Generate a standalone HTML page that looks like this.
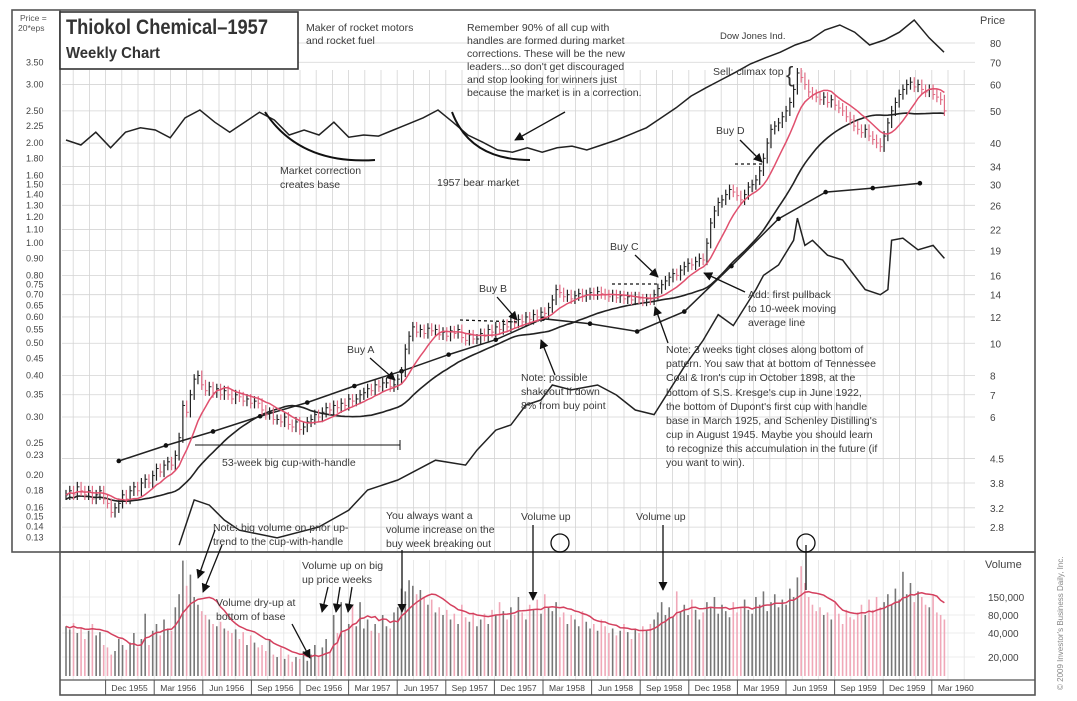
<!DOCTYPE html>
<html><head><meta charset="utf-8"><style>
html,body{margin:0;padding:0;background:#fff;}
svg{display:block;font-family:"Liberation Sans Narrow","Liberation Sans",sans-serif;}
.t{font-size:10.5px;fill:#3a3a3a;}
.ax{font-size:10px;fill:#444;}
</style></head><body>
<svg id="chart" width="1077" height="701" viewBox="0 0 1077 701" xmlns="http://www.w3.org/2000/svg">
<defs><marker id="ah" viewBox="0 0 10 10" refX="9" refY="5" markerWidth="7" markerHeight="7" orient="auto"><path d="M0,0 L10,5 L0,10 z" fill="#111"/></marker></defs>
<rect x="0" y="0" width="1077" height="701" fill="#fff"/>
<g id="grid"></g>
<g id="series"></g>
<g id="frames">
<rect x="12" y="10" width="1023" height="542" fill="none" stroke="#555" stroke-width="1.6"/>
<line x1="60" y1="10" x2="60" y2="552" stroke="#555" stroke-width="1.6"/>
<rect x="60" y="552" width="975" height="143" fill="none" stroke="#555" stroke-width="1.6"/>
<line x1="60" y1="680" x2="1035" y2="680" stroke="#555" stroke-width="1.2"/>
<rect x="60" y="12" width="238" height="57" fill="#fff" stroke="#333" stroke-width="1.6"/>
</g>
<g id="labels">
<text x="66" y="34" textLength="202" lengthAdjust="spacingAndGlyphs" style="font-size:21px;font-weight:bold;fill:#333">Thiokol Chemical–1957</text>
<text x="66" y="58" textLength="94" lengthAdjust="spacingAndGlyphs" style="font-size:16px;font-weight:bold;fill:#333">Weekly Chart</text>
<text x="20" y="21" style="font-size:8.5px;fill:#555">Price =</text>
<text x="18" y="31" style="font-size:8.5px;fill:#555">20*eps</text>
<text x="980" y="24" class="ax" style="font-size:11px">Price</text>
<text x="985" y="568" class="ax" style="font-size:11px">Volume</text>
<text class="t"><tspan x="306" y="31">Maker of rocket motors</tspan><tspan x="306" y="44">and rocket fuel</tspan></text>
<text class="t"><tspan x="467" y="31">Remember 90% of all cup with</tspan><tspan x="467" y="44">handles are formed during market</tspan><tspan x="467" y="57">corrections. These will be the new</tspan><tspan x="467" y="70">leaders...so don't get discouraged</tspan><tspan x="467" y="83">and stop looking for winners just</tspan><tspan x="467" y="96">because the market is in a correction.</tspan></text>
<text x="720" y="39" class="t" style="font-size:9.5px">Dow Jones Ind.</text>
<text x="713" y="75" class="t">Sell: climax top</text>
<text x="786" y="82" style="font-size:22px;fill:#333">{</text>
<text class="t"><tspan x="280" y="174">Market correction</tspan><tspan x="280" y="188">creates base</tspan></text>
<text x="437" y="186" class="t">1957 bear market</text>
<text x="716" y="134" class="t">Buy D</text>
<text x="610" y="250" class="t">Buy C</text>
<text x="479" y="292" class="t">Buy B</text>
<text x="347" y="353" class="t">Buy A</text>
<text class="t"><tspan x="748" y="298">Add: first pullback</tspan><tspan x="748" y="312">to 10-week moving</tspan><tspan x="748" y="326">average line</tspan></text>
<text class="t"><tspan x="666" y="353">Note: 3 weeks tight closes along bottom of</tspan><tspan x="666" y="367">pattern. You saw that at bottom of Tennessee</tspan><tspan x="666" y="381">Coal &amp; Iron's cup in October 1898, at the</tspan><tspan x="666" y="396">bottom of S.S. Kresge's cup in June 1922,</tspan><tspan x="666" y="410">the bottom of Dupont's first cup with handle</tspan><tspan x="666" y="424">base in March 1925, and Schenley Distilling's</tspan><tspan x="666" y="438">cup in August 1945. Maybe you should learn</tspan><tspan x="666" y="452">to recognize this accumulation in the future (if</tspan><tspan x="666" y="466">you want to win).</tspan></text>
<text class="t"><tspan x="521" y="381">Note: possible</tspan><tspan x="521" y="395">shakeout if down</tspan><tspan x="521" y="409">8% from buy point</tspan></text>
<text x="222" y="466" class="t">53-week big cup-with-handle</text>
<text class="t"><tspan x="213" y="531">Note: big volume on prior up-</tspan><tspan x="213" y="545">trend to the cup-with-handle</tspan></text>
<text class="t"><tspan x="386" y="519">You always want a</tspan><tspan x="386" y="533">volume increase on the</tspan><tspan x="386" y="547">buy week breaking out</tspan></text>
<text x="521" y="520" class="t">Volume up</text>
<text x="636" y="520" class="t">Volume up</text>
<text class="t"><tspan x="302" y="569">Volume up on big</tspan><tspan x="302" y="583">up price weeks</tspan></text>
<text class="t"><tspan x="216" y="606">Volume dry-up at</tspan><tspan x="216" y="620">bottom of base</tspan></text>
<text x="1063" y="690" transform="rotate(-90 1063 690)" style="font-size:8px;fill:#888">© 2009 Investor's Business Daily, Inc.</text>
</g>
<g id="annot" stroke="#111" stroke-width="1.3" fill="none">
<path d="M265,112 Q300,165 375,160" stroke-width="2"/>
<path d="M452,112 Q470,160 530,160" stroke-width="2"/>
<line x1="565" y1="112" x2="515" y2="140" marker-end="url(#ah)"/>
<line x1="740" y1="140" x2="762" y2="162" marker-end="url(#ah)"/>
<line x1="635" y1="255" x2="658" y2="277" marker-end="url(#ah)"/>
<line x1="497" y1="297" x2="517" y2="320" marker-end="url(#ah)"/>
<line x1="370" y1="358" x2="395" y2="380" marker-end="url(#ah)"/>
<line x1="745" y1="292" x2="704" y2="273" marker-end="url(#ah)"/>
<line x1="668" y1="343" x2="655" y2="307" marker-end="url(#ah)"/>
<line x1="555" y1="375" x2="541" y2="340" marker-end="url(#ah)"/>
<line x1="195" y1="445" x2="400" y2="445" stroke-width="1"/>
<line x1="400" y1="440" x2="400" y2="450" stroke-width="1"/>
<line x1="460" y1="320" x2="520" y2="322" stroke-dasharray="3,3"/>
<line x1="612" y1="284" x2="660" y2="284" stroke-dasharray="3,3"/>
<line x1="735" y1="164" x2="765" y2="164" stroke-dasharray="3,3"/>
<line x1="215" y1="530" x2="198" y2="578" marker-end="url(#ah)"/>
<line x1="222" y1="545" x2="203" y2="592" marker-end="url(#ah)"/>
<line x1="402" y1="550" x2="402" y2="612" marker-end="url(#ah)"/>
<line x1="533" y1="525" x2="533" y2="600" marker-end="url(#ah)"/>
<line x1="663" y1="525" x2="663" y2="590" marker-end="url(#ah)"/>
<line x1="328" y1="587" x2="322" y2="612" marker-end="url(#ah)"/>
<line x1="340" y1="587" x2="336" y2="612" marker-end="url(#ah)"/>
<line x1="352" y1="587" x2="348" y2="612" marker-end="url(#ah)"/>
<line x1="292" y1="624" x2="310" y2="658" marker-end="url(#ah)"/>
<circle cx="560" cy="543" r="9"/>
<circle cx="806" cy="543" r="9"/>
<line x1="806" y1="545" x2="806" y2="590"/>
</g>
</svg>
<script>
// ---- data ----
const closes=[3.5,3.6,3.5,3.7,3.6,3.5,3.6,3.4,3.5,3.6,3.4,3.3,3.1,3.2,3.3,3.5,3.4,3.6,3.7,3.6,
3.8,3.9,3.8,4.0,4.2,4.1,4.3,4.4,4.3,4.6,5.2,6.5,6.2,7.0,7.8,8.0,7.5,7.2,7.4,7.1,
7.3,7.0,7.2,7.0,6.8,7.0,6.9,6.7,6.8,6.6,6.7,6.6,6.3,6.1,6.2,5.9,5.9,5.8,6.0,5.7,
5.6,5.8,5.5,5.6,5.8,5.9,6.1,6.0,6.2,6.4,6.3,6.5,6.4,6.6,6.5,6.8,6.7,6.8,7.0,7.1,
7.3,7.2,7.5,7.4,7.6,7.6,7.4,7.5,7.8,8.2,9.6,10.5,11.2,10.8,11.0,10.7,11.1,10.9,11.0,10.6,
10.8,10.5,10.9,10.7,11.0,10.4,10.2,10.6,10.3,10.3,10.7,10.5,11.0,10.8,11.2,11.0,11.4,11.2,11.6,11.5,
11.8,11.6,12.0,11.8,12.2,12.0,12.4,12.3,12.8,13.5,14.5,14.2,13.8,14.0,13.6,13.9,14.1,13.8,14.0,14.2,
14.0,14.3,14.1,14.0,13.8,14.0,13.7,13.9,13.6,13.8,13.5,13.8,13.6,13.4,13.6,13.5,14.0,14.6,15.0,15.4,
15.8,16.2,16.0,16.6,17.0,17.4,17.2,17.6,18.0,17.8,20.0,23.0,25.0,26.5,27.0,28.0,29.0,28.5,27.8,27.0,
28.0,29.5,30.0,31.0,33.0,36.0,40.0,44.0,45.0,46.0,48.0,50.0,53.0,58.0,65.0,63.0,60.0,57.0,56.0,55.0,
54.0,55.0,53.0,54.0,52.0,51.0,50.0,48.0,47.0,45.0,44.0,43.0,44.0,42.0,41.0,40.0,39.0,42.0,46.0,50.0,
53.0,56.0,58.0,60.0,61.0,59.0,60.0,58.0,57.0,58.0,56.0,55.0,54.0,50.0];
const volumes=[55,48,62,40,52,35,45,60,38,42,30,28,22,25,35,30,26,32,40,28,
35,85,30,45,60,38,70,50,45,110,160,280,190,230,150,120,95,80,70,60,
55,65,50,45,40,48,35,42,30,38,32,28,30,25,35,22,20,28,18,22,
15,20,18,25,16,22,30,20,28,35,24,80,40,130,45,60,120,55,130,50,
70,45,60,40,80,55,50,90,110,180,170,210,190,160,175,150,120,140,90,110,
80,100,70,85,60,120,75,65,90,55,70,85,60,100,80,130,95,70,110,80,
150,90,70,120,100,140,85,160,110,95,130,75,90,60,80,70,55,95,65,50,
60,45,70,55,40,50,38,45,60,42,35,50,40,55,45,60,70,90,130,80,
110,75,170,95,120,80,140,100,70,90,130,110,150,85,120,95,75,130,90,110,
140,100,85,150,120,170,95,130,160,110,140,120,180,150,220,260,200,150,120,95,
110,80,90,70,130,85,60,100,75,70,90,120,80,140,100,150,110,130,160,120,
180,140,240,160,200,130,170,150,120,110,160,90,80,70];
const rsWeeks=[30,34,38,42,46,56,67,75,80,88,98,106,109,114,118,122,126,129,134,141,146,151,156,164,169,173,177,183,185,189,193,194,196,198,202,206,212,216,218,219,222,226,230,233];
const rsVals=[2.47,3.38,3.26,2.94,2.74,2.6,2.8,3.15,3.62,3.88,4.45,4.3,4.77,5.48,5.68,6.52,6.75,7.49,7.24,7.49,6.99,6.3,6.1,8.5,10.2,12.2,11.3,14.5,16,17.2,20.4,23.8,19.7,20.4,18.4,17.8,14.5,14,14.5,20.4,20.7,19.1,19.7,18];
const epsVals=[0.22,0.245,0.27,0.30,0.33,0.37,0.41,0.46,0.51,0.59,0.57,0.54,0.62,0.85,1.18,1.42,1.46,1.51];
const dowVals=[458,449,472,444,472,480,476,462,498,512,490,472,490,508,494,467,476,467,490,463,467,465,476,487,498,512,490,467,454,440,436,444,436,444,447,440,449,458,469,480,498,516,537,552,566,580,595,606,616,629,638,656,665,652,629,638,652,674,642,616];
const priceTicks=["80","70","60","50","40","34","30","26","22","19","16","14","12","10","8","7","6","4.5","3.8","3.2","2.8"];
const epsTicks=["3.50","3.00","2.50","2.25","2.00","1.80","1.60","1.50","1.40","1.30","1.20","1.10","1.00","0.90","0.80","0.75","0.70","0.65","0.60","0.55","0.50","0.45","0.40","0.35","0.30","0.25","0.23","0.20","0.18","0.16","0.15","0.14","0.13"];
const volTicks=["150,000","80,000","40,000","20,000"];
const volTickVals=[150,80,40,20];
const dateLabels=["Dec 1955","Mar 1956","Jun 1956","Sep 1956","Dec 1956","Mar 1957","Jun 1957","Sep 1957","Dec 1957","Mar 1958","Jun 1958","Sep 1958","Dec 1958","Mar 1959","Jun 1959","Sep 1959","Dec 1959","Mar 1960"];
// ---- scales ----
const NS="http://www.w3.org/2000/svg";
const xW=i=>66+i*3.77;
const yP=p=>43+144.4*(Math.log(80)-Math.log(p));
const yE=e=>62+144.2*(Math.log(3.5)-Math.log(e));
const vLv=[0,20,40,80,150,300], vY=[676,657,633,615,597,555];
function yV(v){for(let k=1;k<vLv.length;k++){if(v<=vLv[k]){const t=(v-vLv[k-1])/(vLv[k]-vLv[k-1]);return vY[k-1]+t*(vY[k]-vY[k-1]);}}return 555;}
const yD=d=>150-(d-440)/1.8;
const xM=m=>57+m*16.2;
function mk(tag,attrs,parent){const e=document.createElementNS(NS,tag);for(const k in attrs)e.setAttribute(k,attrs[k]);parent.appendChild(e);return e;}
const grid=document.getElementById('grid'), ser=document.getElementById('series');
for(let m=0;m<=57;m++){const x=xM(m);if(x<62||x>975)continue;
 const l=mk('line',{x1:x,y1:70,x2:x,y2:552,stroke:'#d4d4d4','stroke-width':0.8},grid);
 
 
 const l2=mk('line',{x1:x,y1:560,x2:x,y2:680,stroke:'#e2e2e2','stroke-width':0.8},grid);
 
 }
priceTicks.forEach(s=>{const y=yP(parseFloat(s));
 const l=mk('line',{x1:62,y1:y,x2:975,y2:y,stroke:'#d4d4d4','stroke-width':0.8},grid);
 
 
 const t=mk('text',{x:990,y:y+4,'class':'ax'},grid);t.textContent=s;
 
 });
epsTicks.forEach(s=>{const y=yE(parseFloat(s));
 const t=mk('text',{x:26,y:y+3.5,'class':'ax',style:'font-size:9px'},grid);t.textContent=s;
 
 });
volTicks.forEach((s,k)=>{const y=yV(volTickVals[k]);
 const l=mk('line',{x1:62,y1:y,x2:975,y2:y,stroke:'#e6e6e6','stroke-width':0.8},grid);
 
 
 const t=mk('text',{x:988,y:y+4,'class':'ax'},grid);t.textContent=s;
 
 });
dateLabels.forEach((s,k)=>{const x0=xM(3+3*k);
 const l=mk('line',{x1:x0,y1:680,x2:x0,y2:695,stroke:'#555','stroke-width':1},grid);
 
 
 const t=mk('text',{x:x0+24,y:691,'text-anchor':'middle','class':'ax',style:'font-size:8.5px'},grid);t.textContent=s;
 
 });
volumes.forEach((v,i)=>{const up=i===0||closes[i]>=closes[i-1];
 const r=mk('line',{x1:xW(i),y1:676,x2:xW(i),y2:yV(v),stroke:up?'#777':'#f0a8b8','stroke-width':1.6},ser);
 
 });
function ma(arr,n){return arr.map((v,i)=>{const s=arr.slice(Math.max(0,i-n+1),i+1);return s.reduce((a,b)=>a+b,0)/s.length;});}
function poly(pts,attrs,name){const p=mk('polyline',Object.assign({points:pts.map(q=>q[0].toFixed(1)+','+q[1].toFixed(1)).join(' '),fill:'none'},attrs),ser);return p;}
poly(ma(volumes,10).map((v,i)=>[xW(i),yV(v)]),{stroke:'#d4405e','stroke-width':1.5},'volume-moving-average');
poly(dowVals.map((d,k)=>[66+k*(878/(dowVals.length-1)),yD(d)]),{stroke:'#222','stroke-width':1.5},'dow-jones-line');
const ma30=ma(closes,30);
poly(ma30.map((v,i)=>[xW(i),yP(v*0.97)]),{stroke:'#222','stroke-width':1.6},'moving-average-30wk');
poly(rsVals.map((v,k)=>[xW(rsWeeks[k]),yP(v)]),{stroke:'#222','stroke-width':1.5},'relative-strength-line');
const epsPts=epsVals.map((e,q)=>[xW(14+q*12.5),yE(e)]);
poly(epsPts,{stroke:'#222','stroke-width':1.5},'eps-line');
epsPts.forEach(p=>{const c=mk('circle',{cx:p[0],cy:p[1],r:2.3,fill:'#111'},ser);
 
 });
closes.forEach((c,i)=>{const pv=i?closes[i-1]:c;const hi=Math.max(c,pv)*1.035, lo=Math.min(c,pv)*0.965;const up=c>=pv;
 const col=up?'#222':'#e06d85';
 const b=mk('line',{x1:xW(i),y1:yP(hi),x2:xW(i),y2:yP(lo),stroke:col,'stroke-width':1.2},ser);
 
 
 const t=mk('line',{x1:xW(i),y1:yP(c),x2:xW(i)+2.2,y2:yP(c),stroke:col,'stroke-width':1},ser);
 
 });
poly(ma(closes,10).map((v,i)=>[xW(i),yP(v)]),{stroke:'#e0506e','stroke-width':1.5},'moving-average-10wk');
</script>
</body></html>
